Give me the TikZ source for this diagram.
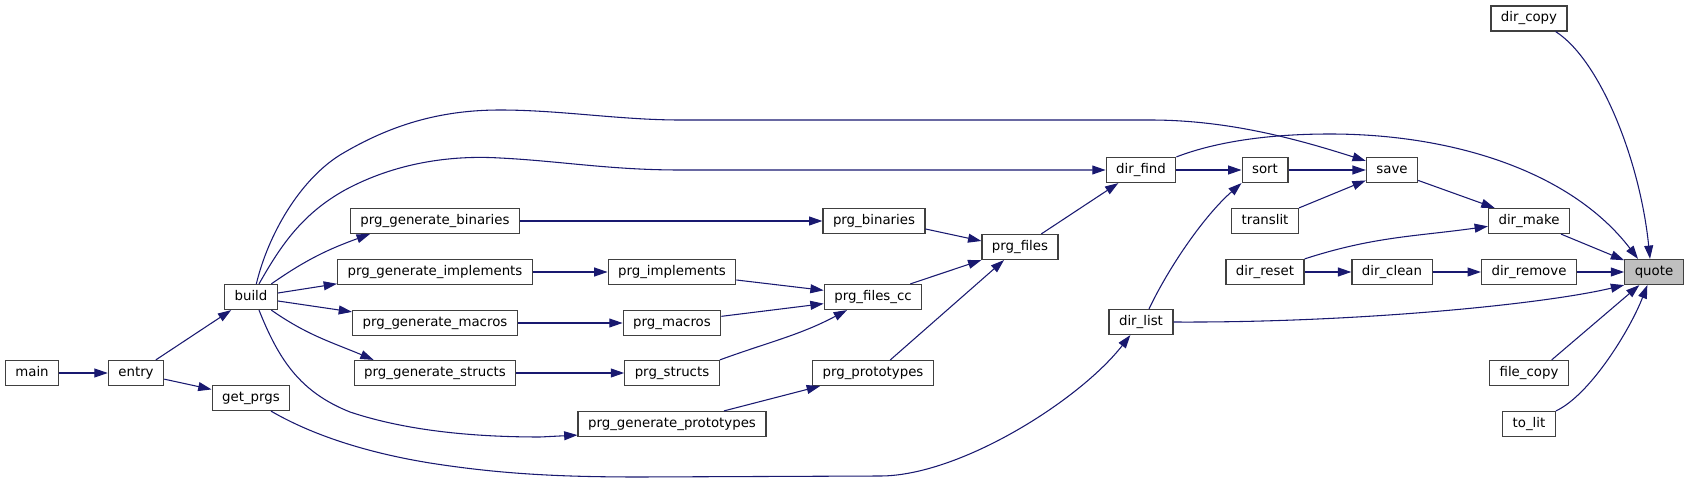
\documentclass[tikz,border=0pt]{standalone}
\usepackage{fontspec}
\setmainfont{DejaVu Sans}
\usepackage{xcolor}
\usetikzlibrary{arrows.meta}
\definecolor{edgeblue}{HTML}{191970}

\begin{document}
\begin{tikzpicture}[
  x=0.75pt, y=-0.75pt,
  fn/.style={draw=black!75, line width=0.9pt, fill=white, inner xsep=7.5pt, inner ysep=0pt,
             minimum height=18.75pt, text height=7.4pt, text depth=2.3pt,
             font=\fontsize{10}{12}\selectfont},
  hit/.style={fn, fill=black!25},
  arr/.style={-{Triangle[length=10pt,width=6.7pt]}, draw=edgeblue, line width=0.8pt}
]
\useasboundingbox (0,0) rectangle (1689,481);

% callers, left to right
\node[fn] (main)  at (32,373)  {main};
\node[fn] (entry) at (136,373) {entry};
\node[fn] (build) at (251,297) {build};
\node[fn] (getprgs) at (251,398) {get\_prgs};
% generators
\node[fn] (genbin)    at (435,221) {prg\_generate\_binaries};
\node[fn] (genimpl)   at (435,272) {prg\_generate\_implements};
\node[fn] (genmac)    at (435,323) {prg\_generate\_macros};
\node[fn] (genstruct) at (435,373) {prg\_generate\_structs};
\node[fn] (genproto)  at (672,424) {prg\_generate\_prototypes};
% prg layer
\node[fn] (bin)     at (874,221) {prg\_binaries};
\node[fn] (impl)    at (672,272) {prg\_implements};
\node[fn] (mac)     at (672,323) {prg\_macros};
\node[fn] (struct)  at (672,373) {prg\_structs};
\node[fn] (filescc) at (873,297) {prg\_files\_cc};
\node[fn] (proto)   at (873,373) {prg\_prototypes};
\node[fn] (files)   at (1020,247) {prg\_files};
% dir helpers
\node[fn] (find)     at (1141,170) {dir\_find};
\node[fn] (list)     at (1141,322) {dir\_list};
\node[fn] (sort)     at (1265,170) {sort};
\node[fn] (translit) at (1265,221) {translit};
\node[fn] (reset)    at (1265,272) {dir\_reset};
\node[fn] (save)     at (1392,170) {save};
\node[fn] (clean)    at (1392,272) {dir\_clean};
\node[fn] (copy)     at (1529,18.5) {dir\_copy};
\node[fn] (make)     at (1529,221) {dir\_make};
\node[fn] (remove)   at (1529,272) {dir\_remove};
\node[fn] (fcopy)    at (1529,373) {file\_copy};
\node[fn] (tolit)    at (1529,424) {to\_lit};
% the function itself
\node[hit] (quote) at (1654,272) {quote};

% left part
\draw[arr] (main) -- (entry);
\draw[arr] (entry) -- (build);
\draw[arr] (entry) -- (getprgs);
\draw[arr] ([xshift=-5pt]build.north east) to[out=35,in=200] ([xshift=15pt]genbin.south west);
\draw[arr] ([yshift=3pt]build.east) -- ([yshift=1pt]genimpl.south west);
\draw[arr] ([yshift=-3pt]build.east) -- ([yshift=-1.5pt]genmac.north west);
\draw[arr] ([xshift=-5pt]build.south east) to[out=-35,in=157] ([xshift=15pt]genstruct.north west);
% long ones from build and get_prgs
\draw[arr] ([xshift=4pt]build.north) .. controls +(12,-50) and (300,180) .. (340,155)
  .. controls (390,125) and (440,110) .. (500,110)
  .. controls (560,110) and (620,120) .. (680,120) -- (1150,120)
  .. controls (1230,120) and (1300,140) .. ([yshift=-3pt]save.north west);
\draw[arr] ([xshift=6pt]build.north) .. controls +(20,-35) and (300,215) .. (345,190)
  .. controls (395,163) and (450,155) .. (500,158)
  .. controls (560,161) and (610,170) .. (680,170) -- (find.west);
\draw[arr] ([xshift=6pt]build.south) .. controls +(20,50) and (300,392) .. (350,412)
  .. controls (410,432) and (480,437) .. (540,437) -- ([yshift=1.5pt]genproto.south west);
\draw[arr] ([xshift=15pt]getprgs.south) .. controls (300,428) and (350,450) .. (430,463)
  .. controls (500,474) and (560,477) .. (640,477) -- (880,476)
  .. controls (960,476) and (1080,400) .. ([xshift=-8pt]list.south);
% generators to prg layer
\draw[arr] (genbin) -- (bin);
\draw[arr] (genimpl) -- (impl);
\draw[arr] (genmac) -- (mac);
\draw[arr] (genstruct) -- (struct);
\draw[arr] ([xshift=39pt]genproto.north) -- ([xshift=6pt]proto.south west);
\draw[arr] ([yshift=-6pt]bin.east) -- ([yshift=4.5pt]files.west);
\draw[arr] ([yshift=-6pt]impl.east) -- ([yshift=5pt]filescc.west);
\draw[arr] ([yshift=5pt]mac.east) -- ([yshift=-5pt]filescc.west);
\draw[arr] (struct.north east) to[out=20,in=-152] ([xshift=-19.5pt]filescc.south);
\draw[arr] ([xshift=28pt]filescc.north) -- (files.south west);
\draw[arr] ([xshift=13pt]proto.north) -- ([xshift=-12pt]files.south);
\draw[arr] ([xshift=16pt]files.north) -- ([xshift=-17pt]find.south);
% dir helpers
\draw[arr] (find) -- (sort);
\draw[arr] (sort) -- (save);
\draw[arr] (translit.north east) -- ([yshift=2pt]save.south west);
\draw[arr] ([yshift=2pt]save.south east) -- ([xshift=5pt]make.north west);
\draw[arr] (reset.north east) to[out=18,in=188] ([yshift=-4pt]make.west);
\draw[arr] (reset) -- (clean);
\draw[arr] (clean) -- (remove);
\draw[arr] ([xshift=6pt]list.north) .. controls (1170,265) and (1205,215) .. (sort.south west);
% into quote
\draw[arr] ([xshift=24pt]make.south) -- ([yshift=-1pt]quote.north west);
\draw[arr] (remove) -- (quote);
\draw[arr] (find.north east) .. controls (1210,144) and (1260,134) .. (1330,134)
  .. controls (1450,134) and (1570,170) .. ([xshift=-12pt]quote.north);
\draw[arr] (list.east) .. controls (1350,323) and (1540,305) .. (quote.south west);
\draw[arr] ([xshift=20pt]copy.south) .. controls (1600,60) and (1640,160) .. ([xshift=-3pt]quote.north);
\draw[arr] ([xshift=17pt]fcopy.north) -- ([xshift=-11pt]quote.south);
\draw[arr] (tolit.north east) .. controls (1590,395) and (1630,330) .. ([xshift=-5pt]quote.south);
\end{tikzpicture}
\end{document}
